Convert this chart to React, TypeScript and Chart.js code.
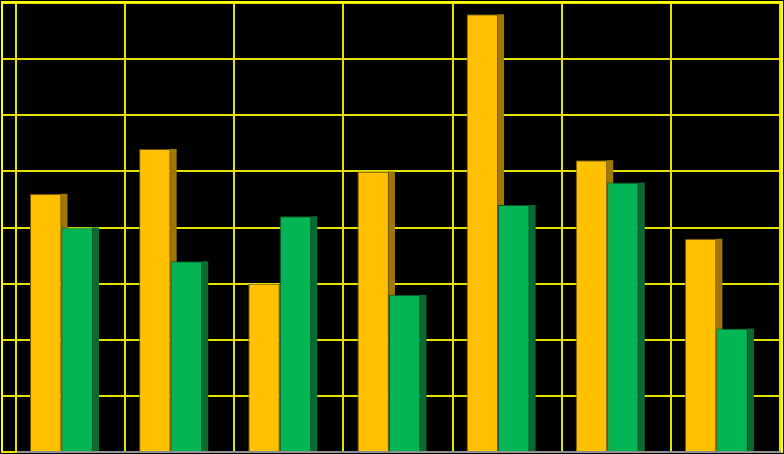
import React, { useEffect, useRef } from "react";
import { Chart, registerables } from "chart.js";

Chart.register(...registerables);

const categories = ["1", "2", "3", "4", "5", "6", "7"];
const seriesGold = [4.6, 5.4, 3.0, 5.0, 7.8, 5.2, 3.8];
const seriesGreen = [4.0, 3.4, 4.2, 2.8, 4.4, 4.8, 2.2];
const yTicks = [0, 1, 2, 3, 4, 5, 6, 7, 8];

const GOLD = "#FFC000";
const GOLD_SHADOW = "#A07800";
const GREEN = "#03B555";
const GREEN_SHADOW = "#0B6A32";
const GRID = "#E4E400";
const SHIFT = 0.083;
const SHADOW_W = 6;

const shadowPlugin = {
  id: "barShadow",
  beforeDatasetsDraw(chart: any) {
    const ctx = chart.ctx;
    ctx.save();
    chart.data.datasets.forEach((ds: any, di: number) => {
      const meta = chart.getDatasetMeta(di);
      ctx.fillStyle = ds.shadowColor;
      meta.data.forEach((bar: any) => {
        const right = bar.x + bar.width / 2;
        ctx.fillRect(right - 1, bar.y, SHADOW_W + 1, bar.base - bar.y);
      });
    });
    ctx.restore();
  },
};

const framePlugin = {
  id: "frame",
  afterDraw(chart: any) {
    const ctx = chart.ctx;
    ctx.save();
    ctx.strokeStyle = "#FFFF00";
    ctx.lineWidth = 2;
    ctx.beginPath();
    ctx.moveTo(2, 453);
    ctx.lineTo(2, 2);
    ctx.lineTo(782, 2);
    ctx.lineTo(782, 453);
    ctx.stroke();
    ctx.restore();
  },
};

export default function App() {
  const ref = useRef<HTMLCanvasElement>(null);

  useEffect(() => {
    if (!ref.current) return;
    const chart = new Chart(ref.current, {
      type: "bar",
      data: {
        labels: categories,
        datasets: [
          {
            label: "A",
            data: seriesGold.map((v, i) => ({ x: i, y: v })),
            backgroundColor: GOLD,
            borderColor: "#6B5200",
            borderWidth: 1,
            shadowColor: GOLD_SHADOW,
          } as any,
          {
            label: "B",
            data: seriesGreen.map((v, i) => ({ x: i, y: v })),
            backgroundColor: GREEN,
            borderColor: "#0A4F26",
            borderWidth: 1,
            shadowColor: GREEN_SHADOW,
          } as any,
        ],
      },
      options: {
        animation: false,
        responsive: true,
        maintainAspectRatio: false,
        layout: { padding: { left: 3, right: 4, top: 3, bottom: 2 } },
        plugins: { legend: { display: false }, tooltip: { enabled: false } },
        datasets: { bar: { categoryPercentage: 0.578, barPercentage: 1 } },
        scales: {
          x: {
            type: "linear",
            offset: false,
            min: -0.5 + SHIFT,
            max: categories.length - 0.5 + SHIFT,
            afterBuildTicks: (s: any) => {
              s.ticks = Array.from({ length: categories.length + 1 }, (_, k) => ({ value: s.min + k }));
            },
            afterFit: (s: any) => {
              s.height = 0;
            },
            ticks: { display: false },
            grid: { offset: false, color: GRID, lineWidth: 2, drawTicks: false },
            border: { display: true, color: "#909090", width: 2 },
          },
          y: {
            min: yTicks[0],
            max: yTicks[yTicks.length - 1],
            afterBuildTicks: (s: any) => {
              s.ticks = yTicks.map((v) => ({ value: v }));
            },
            afterFit: (s: any) => {
              s.width = 13;
            },
            ticks: { display: false },
            grid: { color: GRID, lineWidth: 2, tickLength: 13, drawTicks: true },
            border: { display: true, color: GRID, width: 2 },
          },
        },
      } as any,
      plugins: [shadowPlugin, framePlugin],
    });
    return () => chart.destroy();
  }, []);

  return (
    <div style={{ position: "fixed", left: 0, top: 0, width: 784, height: 454, background: "#000" }}>
      <canvas ref={ref} />
    </div>
  );
}
